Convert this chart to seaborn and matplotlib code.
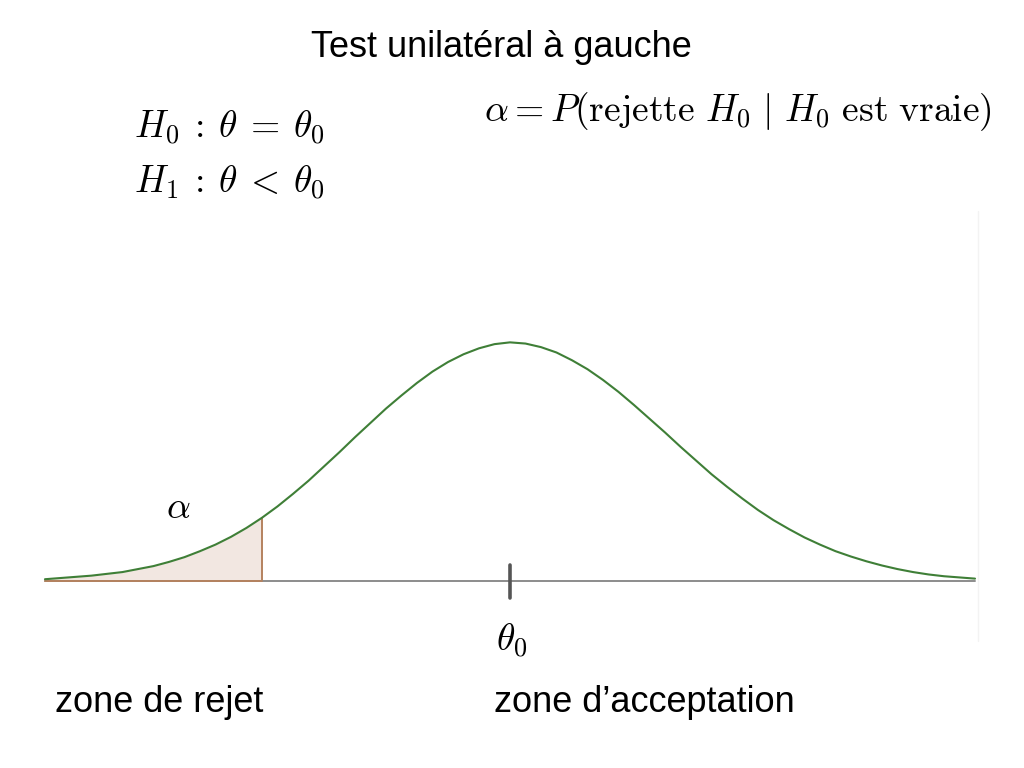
"""
Left-sided hypothesis test: normal curve with the rejection zone shaded.
"""

import pandas as pd
import matplotlib.pyplot as plt
import seaborn as sns


# curve points (x in sigma units, y = density height)
curve_x = [-3.0, -2.9, -2.8, -2.7, -2.6, -2.5, -2.4, -2.3, -2.2, -2.1,
           -2.0, -1.9, -1.8, -1.7, -1.6, -1.5, -1.4, -1.3, -1.2, -1.1,
           -1.0, -0.9, -0.8, -0.7, -0.6, -0.5, -0.4, -0.3, -0.2, -0.1,
           0.0, 0.1, 0.2, 0.3, 0.4, 0.5, 0.6, 0.7, 0.8, 0.9,
           1.0, 1.1, 1.2, 1.3, 1.4, 1.5, 1.6, 1.7, 1.8, 1.9,
           2.0, 2.1, 2.2, 2.3, 2.4, 2.5, 2.6, 2.7, 2.8, 2.9, 3.0]
curve_y = [0.003, 0.005, 0.007, 0.009, 0.012, 0.015, 0.020, 0.025, 0.032,
           0.040, 0.050, 0.061, 0.074, 0.089, 0.106, 0.125, 0.146, 0.168,
           0.192, 0.216, 0.241, 0.265, 0.289, 0.311, 0.332, 0.351, 0.367,
           0.380, 0.390, 0.397, 0.400, 0.398, 0.392, 0.383, 0.370, 0.355,
           0.337, 0.317, 0.295, 0.272, 0.249, 0.225, 0.202, 0.179, 0.158,
           0.138, 0.119, 0.102, 0.087, 0.073, 0.061, 0.050, 0.041, 0.033,
           0.026, 0.020, 0.015, 0.011, 0.008, 0.006, 0.004]
critical_x = -1.6
theta0_x = 0.0

title = 'Test unilatéral à gauche'
hypotheses = [r'$H_0\>:\>\theta\>=\>\theta_0$',
              r'$H_1\>:\>\theta\><\>\theta_0$']
alpha_def = r'$\alpha = P(\mathrm{rejette}\ H_0\ |\ H_0\ \mathrm{est\ vraie})$'
zone_labels = ['zone de rejet', 'zone d’acceptation']


def plot(df):
    sns.set_style('white')
    plt.rcParams['font.family'] = ['Liberation Sans', 'DejaVu Sans']
    plt.rcParams['mathtext.fontset'] = 'cm'
    plt.rcParams['text.color'] = 'black'

    fig = plt.figure(figsize=(10.24, 7.68), dpi=100)
    ax = fig.add_axes([0, 0, 1, 1])

    # rejection zone
    tail = df[df['x'] <= critical_x + 1e-9]
    ax.fill_between(tail['x'], 0, tail['y'], color='#f2e7e1', lw=0)
    crit_y = tail['y'].iloc[-1]
    ax.plot([critical_x, critical_x], [0, crit_y], color='#b5825f', lw=1.4)

    # baseline
    ax.plot([df['x'].min(), df['x'].max()], [0, 0], color='#8c8c8c', lw=1.4)
    ax.plot([df['x'].min(), critical_x], [0, 0], color='#b5825f', lw=1.4)

    # the curve
    sns.lineplot(data=df, x='x', y='y', ax=ax, color='#3f7f37', lw=1.5)

    # tick at theta0
    ax.plot([theta0_x, theta0_x], [-0.028, 0.027], color='#555555', lw=2.6)

    # faint border line on the right
    ax.plot([3.02, 3.02], [-0.1, 0.62], color='#f3f3f3', lw=1)

    ax.set_xlim(-3.290, 3.316)
    ax.set_ylim(-0.3134, 0.9738)
    ax.axis('off')

    fig.text(0.490, 0.938, title, ha='center', va='center', fontsize=26)
    fig.text(0.131, 0.833, hypotheses[0], ha='left', va='center',
             fontsize=27)
    fig.text(0.131, 0.762, hypotheses[1], ha='left', va='center',
             fontsize=27)
    fig.text(0.473, 0.855, alpha_def, ha='left', va='center', fontsize=27)
    ax.text(-2.14, 0.123, r'$\alpha$', ha='center', va='center',
            fontsize=27)
    ax.text(theta0_x + 0.01, -0.101, r'$\theta_0$', ha='center',
            va='center', fontsize=27)
    fig.text(0.054, 0.085, zone_labels[0], ha='left', va='center',
             fontsize=26)
    fig.text(0.482, 0.085, zone_labels[1], ha='left', va='center',
             fontsize=26)

    plt.savefig('out.png', dpi=100)


def main():
    df = pd.DataFrame({'x': curve_x, 'y': curve_y})
    plot(df)


if __name__ == '__main__':
    main()
